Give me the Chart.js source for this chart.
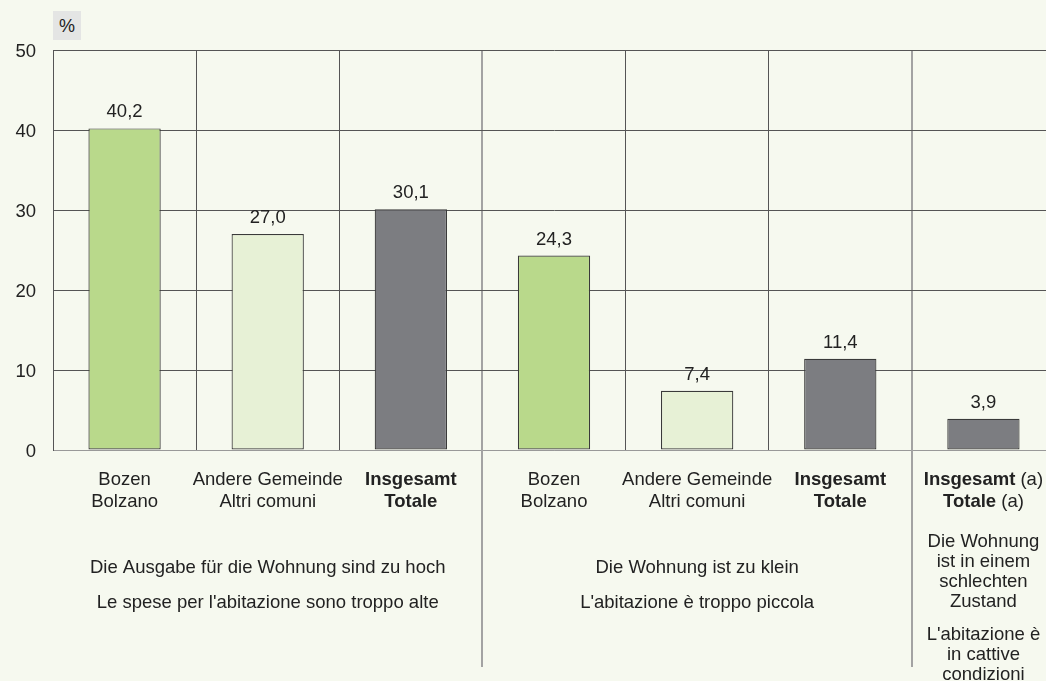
<!DOCTYPE html>
<html>
<head>
<meta charset="utf-8">
<script src="https://cdn.jsdelivr.net/npm/chart.js@4/dist/chart.umd.min.js"></script>
<style>
  html, body { margin: 0; padding: 0; background: #f6f9ef; overflow: hidden; }
  #wrap { position: relative; width: 1055px; height: 681px; }
  #unit { position: absolute; left: 53px; top: 11px; width: 28px; height: 29px; background: #e4e5e4;
          font: 18px "Liberation Sans", Arial, sans-serif; color: #222; text-align: center; line-height: 30px; }
</style>
</head>
<body>
<div id="wrap">
  <canvas id="c" width="1055" height="681"></canvas>
  <div id="unit">%</div>
</div>
<script>
// ---- data ----
const categories = ["Bozen|Bolzano", "Andere Gemeinde|Altri comuni", "Insgesamt|Totale",
                    "Bozen|Bolzano", "Andere Gemeinde|Altri comuni", "Insgesamt|Totale",
                    "Insgesamt (a)|Totale (a)"];
const values = [40.2, 27.0, 30.1, 24.3, 7.4, 11.4, 3.9];
const boldCategory = [false, false, true, false, false, true, true];
const yTicks = [0, 10, 20, 30, 40, 50];
const groupLabels = [
  ["Die Ausgabe für die Wohnung sind zu hoch", "Le spese per l'abitazione sono troppo alte"],
  ["Die Wohnung ist zu klein", "L'abitazione è troppo piccola"],
  ["Die Wohnung", "ist in einem", "schlechten", "Zustand", "L'abitazione è", "in cattive", "condizioni"]
];
const groupRanges = [[0, 2], [3, 5], [6, 6]];
const groupSplits = [3, 6];

// ---- styles ----
const FONT = '"Liberation Sans", Arial, sans-serif';
const FS = 18.5;
const barColors = ['#b9d98b', '#e7f1d6', '#7c7d81', '#b9d98b', '#e7f1d6', '#7c7d81', '#7c7d81'];

const labelsPlugin = {
  id: 'labels',
  afterDatasetsDraw(chart) {
    const ctx = chart.ctx;
    const meta = chart.getDatasetMeta(0);
    ctx.save();
    ctx.fillStyle = '#222';
    ctx.font = FS + 'px ' + FONT;
    ctx.textAlign = 'center';
    ctx.textBaseline = 'alphabetic';
    meta.data.forEach((bar, i) => {
      ctx.fillText(values[i].toFixed(1).replace('.', ','), bar.x, bar.y - 11);
    });
    ctx.restore();
  },
  afterDraw(chart) {
    const ctx = chart.ctx;
    const x = chart.scales.x;
    const area = chart.chartArea;
    ctx.save();
    // separators below plot
    ctx.strokeStyle = '#a3a3a3';
    ctx.lineWidth = 2;
    groupSplits.forEach(s => {
      const px = Math.round((x.getPixelForValue(s - 1) + x.getPixelForValue(s)) / 2);
      ctx.beginPath();
      ctx.moveTo(px, area.bottom);
      ctx.lineTo(px, 667);
      ctx.stroke();
    });
    // category labels
    ctx.fillStyle = '#222';
    ctx.textBaseline = 'alphabetic';
    categories.forEach((c, i) => {
      const cx = x.getPixelForValue(i);
      c.split('|').forEach((line, li) => {
        const y = 485 + li * 22;
        const m = line.match(/^(.*?)( \(a\))?$/);
        const main = m[1], suffix = m[2] || '';
        const mainFont = (boldCategory[i] ? 'bold ' : '') + FS + 'px ' + FONT;
        const sufFont = FS + 'px ' + FONT;
        ctx.font = mainFont; const w1 = ctx.measureText(main).width;
        ctx.font = sufFont; const w2 = suffix ? ctx.measureText(suffix).width : 0;
        let sx = cx - (w1 + w2) / 2;
        ctx.textAlign = 'left';
        ctx.font = mainFont; ctx.fillText(main, sx, y);
        if (suffix) { ctx.font = sufFont; ctx.fillText(suffix, sx + w1, y); }
      });
    });
    // group labels
    ctx.font = FS + 'px ' + FONT;
    ctx.textAlign = 'center';
    groupLabels.forEach((lines, g) => {
      const [a, b] = groupRanges[g];
      const half = (x.getPixelForValue(1) - x.getPixelForValue(0)) / 2;
      const cx = (x.getPixelForValue(a) - half + x.getPixelForValue(b) + half) / 2;
      if (lines.length === 2) {
        ctx.fillText(lines[0], cx, 573);
        ctx.fillText(lines[1], cx, 608);
      } else {
        const ys = [547, 567, 587, 607, 640, 660, 680];
        lines.forEach((l, k) => ctx.fillText(l, cx, ys[k]));
      }
    });
    ctx.restore();
  }
};

new Chart(document.getElementById('c'), {
  type: 'bar',
  data: {
    labels: categories,
    datasets: [{
      data: values,
      backgroundColor: barColors,
      borderColor: '#3a3a3a',
      borderWidth: 1.2,
      borderSkipped: false,
      categoryPercentage: 1,
      barPercentage: 0.505
    }]
  },
  options: {
    responsive: false,
    animation: false,
    events: [],
    layout: { padding: { top: 50, right: 0, left: 0, bottom: 0 } },
    plugins: { legend: { display: false }, tooltip: { enabled: false } },
    scales: {
      x: {
        offset: true,
        ticks: { display: false },
        grid: {
          offset: true,
          drawTicks: false,
          color: c => groupSplits.includes(c.index) ? '#a3a3a3' : '#555',
          lineWidth: c => groupSplits.includes(c.index) ? 2 : 1
        },
        border: { display: true, color: '#999', width: 1 },
        afterFit: s => { s.height = 231; }
      },
      y: {
        min: 0, max: 50,
        afterBuildTicks: s => { s.ticks = yTicks.map(v => ({ value: v })); },
        ticks: { color: '#222', font: { size: FS, family: FONT }, padding: 17, labelOffset: 2 },
        grid: { drawTicks: false, color: c => c.tick && c.tick.value === 0 ? '#999' : '#555', lineWidth: 1 },
        border: { display: true, color: '#555', width: 1 },
        afterFit: s => { s.width = 53; }
      }
    }
  },
  plugins: [labelsPlugin]
});
</script>
</body>
</html>
